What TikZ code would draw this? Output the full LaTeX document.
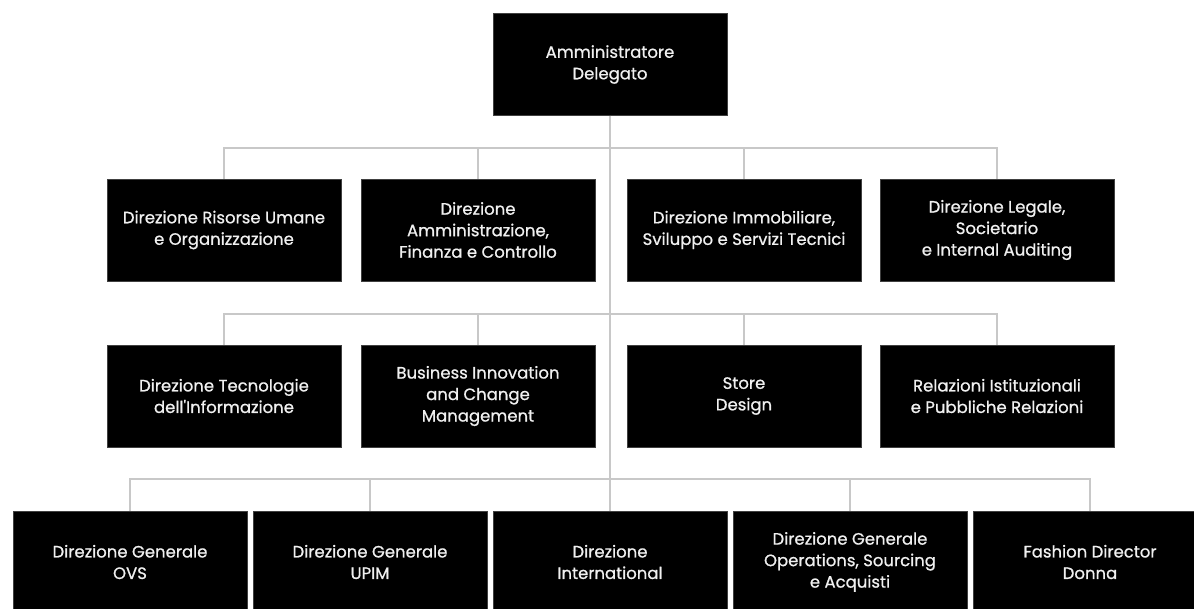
\documentclass[tikz,border=0pt]{standalone}
\usepackage{fontspec}
\setmainfont{Poppins}
\newfontfamily\unitfont{Poppins}[FakeBold=0.8]
\usetikzlibrary{positioning}
\definecolor{linkgray}{HTML}{C8C8C8}
\definecolor{boxtext}{HTML}{F0F0F0}

\begin{document}
\begin{tikzpicture}[
  x=1pt, y=-1pt,
  unit/.style={fill=black, draw=black!75, line width=0.4pt,
               minimum width=234pt, minimum height=102pt,
               align=center, text=boxtext, inner sep=4pt,
               font=\unitfont\fontsize{16.5}{21.5}\selectfont},
  link/.style={draw=linkgray, line width=1.3pt},
]
\useasboundingbox (0,0) rectangle (1194,608);
\clip (0,0) rectangle (1194,608);

% ---- Top ----
\node[unit] (ad) at (610, 64.5) {Amministratore\\Delegato};

% ---- Staff, first row ----
\node[unit] (hr)  at (224, 230) {Direzione Risorse Umane\\e Organizzazione};
\node[unit] (afc) at (478, 230) {Direzione\\Amministrazione,\\Finanza e Controllo};
\node[unit] (imm) at (744, 230) {Direzione Immobiliare,\\Sviluppo e Servizi Tecnici};
\node[unit] (leg) at (997, 230) {Direzione Legale,\\Societario\\e Internal Auditing};

% ---- Staff, second row ----
\node[unit] (it)  at (224, 396) {Direzione Tecnologie\\dell'Informazione};
\node[unit] (bic) at (478, 396) {Business Innovation\\and Change\\Management};
\node[unit] (sd)  at (744, 396) {Store\\Design};
\node[unit] (rel) at (997, 396) {Relazioni Istituzionali\\e Pubbliche Relazioni};

% ---- Line units ----
\node[unit] (ovs)  at (130,  562) {Direzione Generale\\OVS};
\node[unit] (upim) at (370,  562) {Direzione Generale\\UPIM};
\node[unit] (intl) at (610,  562) {Direzione\\International};
\node[unit] (ops)  at (850,  562) {Direzione Generale\\Operations, Sourcing\\e Acquisti};
\node[unit] (fash) at (1090, 562) {Fashion Director\\Donna};

% ---- Buses ----
\coordinate (bus1) at (610, 148);
\coordinate (bus2) at (610, 314);
\coordinate (bus3) at (610, 479);

\draw[link] (ad.south) -- (intl.north);
\foreach \u in {hr, afc, imm, leg}
  \draw[link] (bus1) -| (\u.north);
\foreach \u in {it, bic, sd, rel}
  \draw[link] (bus2) -| (\u.north);
\foreach \u in {ovs, upim, ops, fash}
  \draw[link] (bus3) -| (\u.north);

\end{tikzpicture}
\end{document}
